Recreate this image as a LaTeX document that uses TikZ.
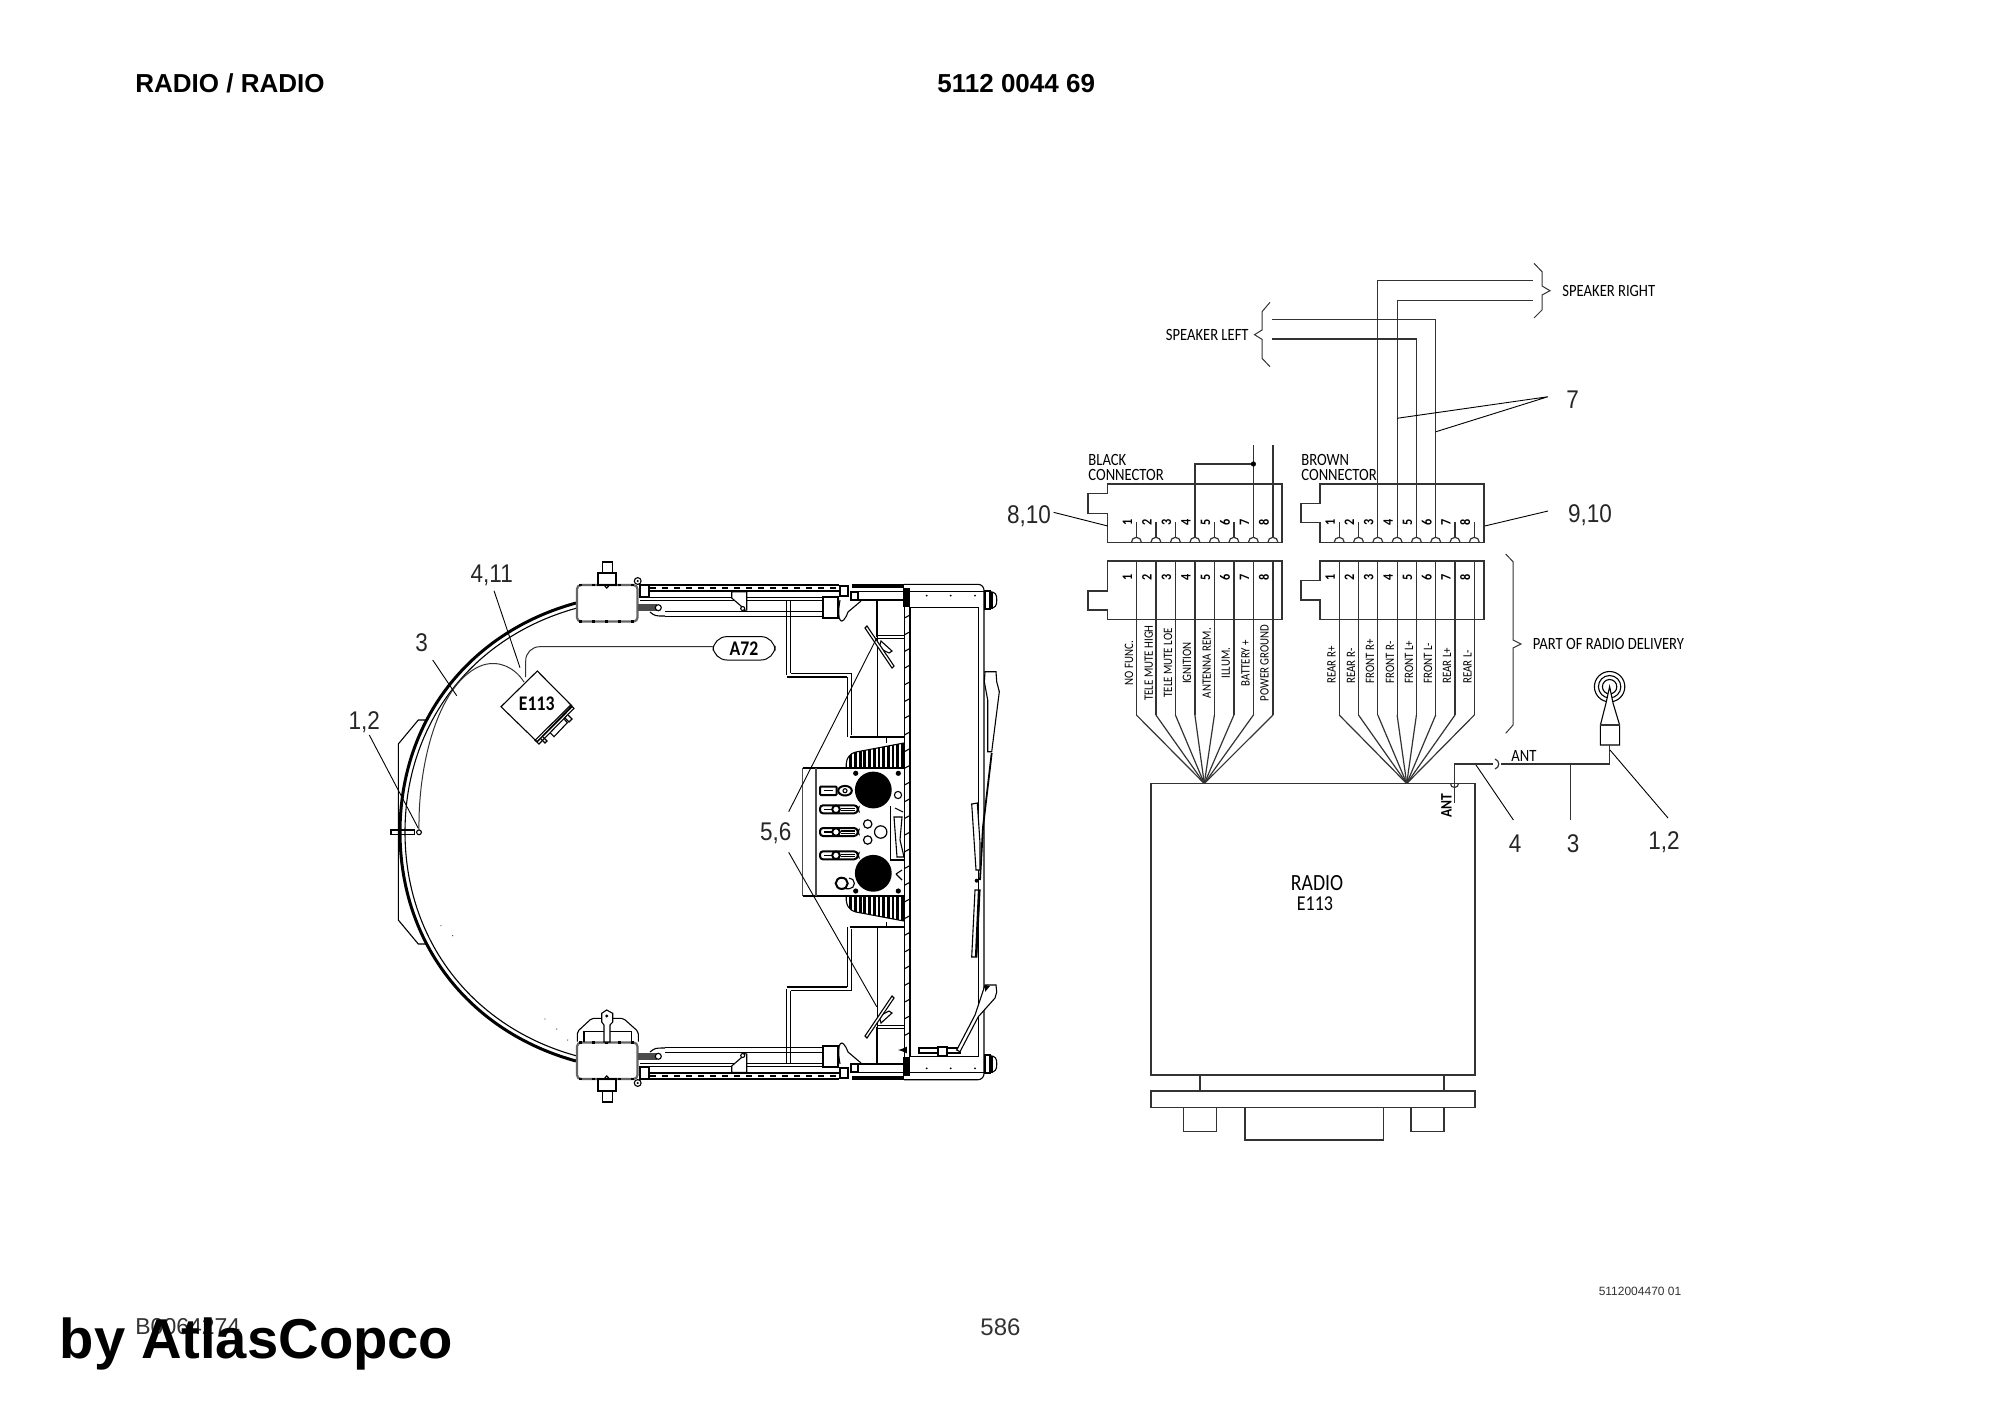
\documentclass[tikz,border=0pt]{standalone}
\usepackage{fontspec}
\setmainfont{Liberation Sans}
\newfontfamily\platefont[FakeStretch=0.85]{Carlito}
\newfontfamily\calloutfont[FakeStretch=0.88]{Liberation Sans}
\usetikzlibrary{calc,positioning}
\definecolor{wireink}{gray}{0.2}
\tikzset{
  thinline/.style={line width=0.5pt,wireink},
  wire/.style={line width=0.6pt,wireink},
  boxline/.style={line width=0.75pt,wireink},
  lead/.style={line width=0.45pt,black},
  cabline/.style={line width=0.55pt,black},
  cabthick/.style={line width=1pt,black},
  title/.style={font=\bfseries\fontsize{13}{14}\selectfont,anchor=west,inner sep=0pt},
  callout/.style={font=\calloutfont\fontsize{12.8}{13}\selectfont,inner sep=0pt,black!85},
  platetext/.style={font=\platefont\fontsize{8.6}{8.6}\selectfont,inner sep=0pt},
  wirename/.style={font=\platefont\fontsize{6.4}{7}\selectfont,inner sep=0pt,rotate=90},
  pinnum/.style={font=\platefont\bfseries\fontsize{7.2}{7.5}\selectfont,inner sep=0pt,rotate=90},
}
\newcommand{\cabhalf}{
  \draw[cabline] (426.7,720)--(418.3,720)--(398.3,744)--(398.3,832);
  \draw[line width=1.5pt] (400,832) .. controls (400,720) and (470,632) .. (576,603);
  \draw[cabline] (405,832) .. controls (405,722) and (474,636) .. (577,608);
  \draw[line width=1.1pt,black!60,rounded corners=2pt] (577,585) rectangle (637.5,621.5);
  \draw[line width=1.1pt,black,dash pattern=on 1.5pt off 5pt] (579,585)--(637,585);
  \draw[line width=1.1pt,black,dash pattern=on 1.5pt off 5pt] (579,621.5)--(637,621.5);
  \draw[cabline] (598,585) rectangle (616,573);
  \draw[cabline] (602.7,573) rectangle (612.7,562);
  \draw[cabline] (606.7,586.5) circle[radius=0.8pt];
  \draw[cabline] (637.7,581) circle[radius=1.7pt];
  \fill (637.7,581) circle[radius=0.6pt];
  \draw[line width=1.1pt] (640,585) rectangle (649.3,596.7);
  \draw[line width=0.9pt] (650,585)--(839,585);
  \draw[line width=0.6pt,dashed] (650,588)--(839,588);
  \draw[cabline] (650,591)--(839,591);
  \draw[cabline] (640,597.3)--(823,597.3);
  \draw[cabline] (640,600.7)--(823,600.7);
  \draw[cabline] (650,612) .. controls (655,616) .. (665,616);
  \draw[cabline] (665,611.7)--(823,611.7);
  \draw[line width=0.8pt] (665,616.5)--(823,616.5);
  \fill[black!70] (638,604) rectangle (657,611);
  \draw[cabline,fill=white] (658.3,607.7) circle[radius=1.5pt];
  \draw[cabline,fill=white] (731.7,591.7)--(746.7,591.7)--(746.7,610)--(742.7,610.7)--(741,606)--(731.7,598)--cycle;
  \draw[cabline,fill=white] (742.7,608.5) circle[radius=1pt];
  \draw[cabline] (786.7,601)--(786.7,675);
  \draw[cabline] (790.7,601)--(790.7,673.3);
  \draw[line width=0.9pt] (786.7,676.7)--(847.3,676.7);
  \draw[cabline] (790.7,673.3)--(851.7,673.3);
  \draw[cabline] (847.3,676.7)--(847.3,737);
  \draw[cabline] (851.7,673.3)--(851.7,735);
  \draw[line width=0.9pt] (850,737)--(904,737);
  \draw[cabline] (886.7,737)--(886.7,742.5);
  \draw[line width=1pt] (877.3,600.7)--(877.3,637);
  \draw[line width=0.4pt] (877.3,637)--(877.3,737);
  \draw[cabline] (877.3,635.5)--(904,635.5);
  \draw[cabline] (877.3,638.5)--(904,638.5);
  \draw[cabthick,fill=white] (823,597)--(838,597)--(838,618)--(823,618)--cycle;
  \draw[cabthick,fill=white] (839.5,586) rectangle (847.7,595.7);
  \draw[cabthick,fill=white] (850.7,592) rectangle (858,600);
  \draw[cabline] (840,600) .. controls (836,622) and (842,628) .. (848,612) -- (861,601);
  \draw[line width=2pt] (852,586)--(904,586);
  \draw[cabline] (858,591.7)--(903,591.7);
  \draw[cabline] (858,600)--(903,600);
  \fill (903,588) rectangle (910,607);
  \draw[cabline,rounded corners=3pt] (904,584.3)--(984,584.3)--(984,832);
  \draw[cabline] (910,591.7)--(984,591.7);
  \draw[cabline] (910.7,607.3)--(978.3,607.3);
  \draw[line width=0.8pt] (978.3,607.3)--(978.3,832);
  \foreach \x in {926.7,950.7,975} {\fill (\x,595.7) circle[radius=0.5pt];}
  \draw[cabline] (985,591) rectangle (990,609);
  \draw[cabline,rounded corners=1.5pt] (990,591.5)--(996,593)--(997,600)--(996,607)--(990,608.5);
  \draw[cabline] (992,591.5)--(992,608.5);
  \draw[cabline,fill=white] (881,641)--(892,651)--(889,653)--(879,648)--cycle;
  \draw[cabline,fill=white] (865,628)--(867,626)--(894,666)--(892,668)--cycle;
  \begin{scope}
    \clip (846,768) .. controls (846,758) and (849,754) .. (856,752)--(904,743)--(904,768)--cycle;
    \foreach \x in {846,850.7,...,906} {\draw[line width=1.4pt] (\x,740)--(\x,768);}
  \end{scope}
  \draw[cabline] (846,768) .. controls (846,758) and (849,754) .. (856,752)--(904,743);
}
\begin{document}
\begin{tikzpicture}[x=0.5pt,y=-0.5pt]
  \useasboundingbox (0,0) rectangle (2000,1414);

  \node[title] (headname) at (135,83.5) {RADIO / RADIO};
  \node[title] (headcode) at (937,83.5) {5112 0044 69};
  \node[font=\fontsize{11.5}{12}\selectfont,anchor=west,inner sep=0pt,black!80] (pageref) at (135,1326.5) {B0064274};
  \node[font=\bfseries\fontsize{28.1}{30}\selectfont,anchor=base west,inner sep=0pt] (stamp) at (59.5,1358) {by AtlasCopco};
  \node[font=\fontsize{12}{12}\selectfont,inner sep=0pt,black!80] (pageno) at (1000.5,1327) {586};
  \node[font=\fontsize{6}{7}\selectfont,inner sep=0pt,black!80] (sheetno) at (1640,1291) {5112004470 01};

  \cabhalf
  \begin{scope}[shift={(0,1664)},yscale=-1]
    \cabhalf
  \end{scope}

  % frame column
  \draw[cabline] (904.5,600)--(904.5,1064);
  \draw[cabline] (910,607)--(910,1057);
  \foreach \y in {616,632.7,...,1050} {\draw[cabline] (904.5,\y+2)--(910,\y-1);}

  % lower cab details
  \draw[cabline,rounded corners=1pt] (577.3,1041.7)--(577.3,1031.7)--(591.7,1018.3)--(623.3,1018.3)--(638.3,1031.7)--(638.3,1041.7);
  \draw[cabline] (584,1042)--(584,1031.7)--(631.7,1031.7)--(631.7,1042);
  \draw[cabline,fill=white] (604,1042)--(604,1025)--(601.7,1022)--(601.7,1013.3)--(606.7,1010)--(612.7,1013.3)--(612.7,1022)--(610,1025)--(610,1042)--cycle;
  \fill (606.7,1016) circle[radius=0.8pt];
  \foreach \x/\y in {441/925.7,452.7/935.7,545/1019,556.7/1029,567.7/1040} {\fill[black!70] (\x,\y) circle[radius=0.35pt];}
  \draw[cabline] (919,1048) rectangle (960,1053);
  \draw[cabline,fill=white] (938,1047) rectangle (947,1056);
  \draw[cabline,fill=white] (985,985)--(996,985)--(996.7,992)--(995,998)--(978.3,1016.7)--(960,1051.7)--(956.7,1050)--(975,1015)--cycle;
  \fill (985,985)--(990,986)--(985,992)--cycle;
  \draw[-latex,cabline] (904,1050)--(898,1050);

  % wipers
  \draw[cabline,fill=white] (985,671.7)--(996,671.7)--(996.7,681.7)--(999.3,691.7)--(991.7,751.7)--(987.7,751.7)--(987.7,700)--(984.3,681.7)--cycle;
  \draw[line width=0.9pt] (991.7,753)--(983,827)--(980,880);
  \draw[cabline,fill=white] (971.7,804)--(977.3,803)--(980,843)--(980,870)--(976,870)--cycle;
  \fill (976.7,880.7) circle[radius=1pt];
  \draw[cabline,fill=white] (975,890)--(980,890)--(976.7,957)--(971.7,957)--cycle;
  \draw[line width=1.1pt] (979,890)--(976,957);

  % control panel
  \draw[line width=0.7pt,black!70] (802.7,768.3)--(802.7,896);
  \draw[line width=0.9pt] (802.7,768.3)--(905,768.3);
  \draw[line width=0.9pt] (802.7,896)--(905,896);
  \draw[line width=0.7pt,black!70] (816,768.3)--(816,896);
  \draw[cabline] (890.7,806)--(890.7,860)--(904,860);
  \fill (873.3,790) circle[radius=9.2pt];
  \fill (873.3,873.3) circle[radius=9.2pt];
  \foreach \x/\y in {855.7/773.3,898.3/773.3,855.7/891,898.3/891} {\fill (\x,\y) circle[radius=1.3pt];}
  \draw[line width=0.6pt] (867.7,824) circle[radius=2.1pt];
  \draw[line width=0.6pt] (880.7,832) circle[radius=3.1pt];
  \draw[line width=0.6pt] (867.7,840) circle[radius=2.1pt];
  \draw[cabthick,rounded corners=0.5pt] (820,786.5) rectangle (836.7,795);
  \draw[cabline] (824,790.7)--(833,790.7);
  \draw[cabthick] (845,790.7) ellipse[x radius=3.4pt,y radius=2.4pt];
  \draw[cabline] (845,790.7) circle[radius=1pt];
  \foreach \y in {809.3,832,855.3} {
    \draw[cabthick,rounded corners=1.5pt] (820,\y-4)--(857,\y-4)--(858,\y)--(857,\y+4)--(820,\y+4)--cycle;
    \draw[cabthick,fill=white] (836,\y) circle[radius=1.9pt];
    \draw[cabline] (824,\y)--(832,\y);
    \draw[line width=0.6pt] (841,\y-1)--(855,\y-1);
    \draw[line width=0.6pt] (841,\y+1.5)--(855,\y+1.5);
  }
  \draw[cabthick] (841.7,883.3) ellipse[x radius=3pt,y radius=2.8pt];
  \draw[cabline] (849,878) arc[start angle=90,end angle=-90,radius=2.7pt] -- (841.7,888.5);
  \draw[cabline] (895,808)--(903,812);
  \draw[cabline] (894,817)--(902,817)--(900,840)--(904,857)--(897,857)--cycle;
  \draw[cabline] (898,795) circle[radius=1.8pt];
  \draw[cabline] (896,874)--(902,870);
  \draw[cabline] (896,874)--(902,880);

  % cable and radio symbol
  \coordinate (cableend) at (419,829.8);
  \coordinate (cablehump) at (483,665);
  \coordinate (symtop) at (524,682);
  \draw[cabline] (419,832.3) circle[radius=1.2pt];
  \draw[cabline] (391,830) rectangle (414.3,834.3);
  \draw[thinline] (cableend) .. controls (418,760) and (440,680) .. (cablehump) .. controls (500,660) and (515,668) .. (symtop);
  \draw[cabline] (537.3,671)--(501,706.7)--(537,741.7)--(571.7,705.7)--cycle;
  \node[font=\platefont\bfseries\fontsize{10.4}{11}\selectfont,inner sep=0pt] (symname) at (536.7,704) {E113};
  \draw[cabline] (570.7,705)--(574,708.3)--(539,744)--(535,740.3)--cycle;
  \draw[cabline] (572.3,706.6)--(537,742.2);
  \draw[cabline] (564.3,719.3)--(567.3,722.7)--(554,736.7)--(550,732.7);
  \draw[cabline] (568,715)--(572,719)--(569,722)--(565,718);
  \draw[cabline] (543,737)--(547,741)--(545,743)--(541,739);
  \node[draw,line width=0.5pt,rounded corners=7pt,minimum width=31pt,minimum height=11.7pt,inner sep=0pt,font=\platefont\bfseries\fontsize{10.4}{11}\selectfont] (tagname) at (744,648.3) {A72};
  \coordinate (symleg) at (525.7,677);
  \draw[thinline,rounded corners=7pt] (symleg)--(525.7,646.7)--(tagname.west |- 0,646.7);

  % part numbers, left view
  \node[callout] (numA) at (491.7,575) {4,11};
  \node[callout] (numB) at (421.7,643) {3};
  \node[callout] (numC) at (364.3,722) {1,2};
  \node[callout] (numD) at (775.7,833.5) {5,6};
  \coordinate (numAa) at (494,590.7);
  \coordinate (numAb) at (520,667.7);
  \coordinate (numBa) at (432.7,660);
  \coordinate (numBb) at (456.7,695.7);
  \coordinate (numCa) at (369.3,735);
  \coordinate (numCb) at (418.3,828.3);
  \coordinate (numDa) at (788.7,811.7);
  \coordinate (numDb) at (876.7,638);
  \coordinate (numDc) at (788.7,852.3);
  \coordinate (numDd) at (876.7,1006.7);
  \draw[lead] (numAa)--(numAb);
  \draw[lead] (numBa)--(numBb);
  \draw[lead] (numCa)--(numCb);
  \draw[lead] (numDa)--(numDb);
  \draw[lead] (numDc)--(numDd);

  % connectors
  \foreach \side/\left/\right/\outer/\topa/\topb/\lowa/\lowb/\first/\pitch in {bk/1107.7/1281.8/1088/493.3/513.3/591/610/1136.4/19.5,br/1320/1484/1301/503.3/522.7/580.7/600/1339.2/19.3} {
    \draw[boxline] (\left,484)--(\right,484)--(\right,542.3)--(\left,542.3)--(\left,\topb)--(\outer,\topb)--(\outer,\topa)--(\left,\topa)--cycle;
    \draw[boxline] (\left,561)--(\right,561)--(\right,619.3)--(\left,619.3)--(\left,\lowb)--(\outer,\lowb)--(\outer,\lowa)--(\left,\lowa)--cycle;
    \foreach \i in {1,...,8} {
      \pgfmathsetmacro\pinx{\first+\pitch*(\i-1)}
      \coordinate (\side-up-\i) at (\pinx,537.3);
      \coordinate (\side-tick-\i) at (\pinx,522);
      \coordinate (\side-low-\i) at (\pinx,561);
      \coordinate (\side-elbow-\i) at (\pinx,715);
      \draw[wire] (\side-up-\i)--(\side-tick-\i);
      \draw[wire] (\pinx-5,542.3) arc[start angle=180,end angle=0,radius=2.5pt];
      \draw[wire] (\side-low-\i)--(\side-elbow-\i);
      \node[pinnum] (\side-upnum-\i) at (\pinx-9,522.5) {\i};
      \node[pinnum] (\side-lownum-\i) at (\pinx-9,577) {\i};
    }
  }

  % radio
  \node[draw,boxline,minimum width=162pt,minimum height=145.8pt,inner sep=0pt] (radio) at (1313,929.3) {};
  \node[font=\platefont\fontsize{11.6}{13}\selectfont,inner sep=0pt] (radioname) at (1317,882.7) {RADIO};
  \node[font=\platefont\fontsize{10.6}{12}\selectfont,inner sep=0pt] (radiocode) at (1315,904) {E113};
  \coordinate (fanblack) at (1204.3,783.5);
  \coordinate (fanbrown) at (1406.7,783.5);
  \foreach \i in {1,...,8} {
    \draw[wire] (bk-elbow-\i)--(fanblack);
    \draw[wire] (br-elbow-\i)--(fanbrown);
  }
  \draw[boxline] (1200,1075)--(1200,1091);
  \draw[boxline] (1443.8,1075)--(1443.8,1091);
  \draw[boxline] (1151,1091) rectangle (1475,1107.7);
  \draw[boxline] (1183.5,1107.7) rectangle (1216.4,1131.7);
  \draw[boxline] (1411,1107.7) rectangle (1444,1131.7);
  \draw[boxline] (1245,1107.7) rectangle (1383.5,1140);

  % wire names
  \foreach \x/\t in {1129/NO FUNC.,1148.8/TELE MUTE HIGH,1168/TELE MUTE LOE,1187/IGNITION,1206.7/ANTENNA REM.,1225.8/ILLUM.,1245.5/BATTERY +,1264.6/POWER GROUND} {
    \node[wirename] at (\x,663) {\t};
  }
  \foreach \x/\t in {1331.6/REAR R+,1351/REAR R-,1370/FRONT R+,1390/FRONT R-,1409/FRONT L+,1428/FRONT L-,1447/REAR L+,1467.5/REAR L-} {
    \node[wirename,anchor=west] at (\x,684) {\t};
  }

  % speaker wires
  \coordinate (spkrightA) at (1532.6,280.7);
  \coordinate (spkrightB) at (1532.6,300.7);
  \coordinate (spkleftA) at (1271.8,319.7);
  \coordinate (spkleftB) at (1271.8,339);
  \coordinate (feedA) at (bk-up-7 |- 0,445);
  \coordinate (feedB) at (bk-up-8 |- 0,445);
  \coordinate (feedjoin) at (bk-up-7 |- 0,464);
  \draw[wire] (br-up-3) |- (spkrightA);
  \draw[wire] (br-up-4) |- (spkrightB);
  \draw[wire] (br-up-6) |- (spkleftA);
  \draw[wire] (br-up-5) |- (spkleftB);
  \draw[wire] (bk-up-7)--(feedA);
  \draw[wire] (bk-up-8)--(feedB);
  \draw[wire] (bk-up-4) |- (feedjoin);
  \fill (feedjoin) circle[radius=1.3pt];

  % braces
  \draw[thinline] (1534,263.3)--(1542,271.7)--(1542,286)--(1550,290.7)--(1542,295)--(1542,310)--(1534,318);
  \draw[thinline] (1270,302.3)--(1262,311.7)--(1262,330)--(1254.5,334.7)--(1262,339.3)--(1262,358.3)--(1270,366.7);
  \draw[thinline] (1505.7,554)--(1513,561.7)--(1513,640)--(1521,644)--(1513,648)--(1513,725)--(1505.7,733.3);

  % plate texts
  \node[platetext,anchor=west] (spkright) at (1562,290.7) {SPEAKER RIGHT};
  \node[platetext,anchor=east] (spkleft) at (1249,334.7) {SPEAKER LEFT};
  \node[platetext,anchor=west] (delivery) at (1532.5,644) {PART OF RADIO DELIVERY};
  \node[platetext,anchor=west] (blackA) at (1088,460) {BLACK};
  \node[platetext,anchor=west] (blackB) at (1088,474.7) {CONNECTOR};
  \node[platetext,anchor=west] (brownA) at (1301,460) {BROWN};
  \node[platetext,anchor=west] (brownB) at (1301,474.7) {CONNECTOR};

  % antenna
  \coordinate (anthub) at (1609.6,686.7);
  \coordinate (antfoot) at (1609.6,745);
  \coordinate (antbend) at (1609.6,764);
  \coordinate (plugright) at (1500.5,764);
  \coordinate (plugleft) at (1493,764);
  \coordinate (radiobend) at (1454.5,764);
  \coordinate (radioplug) at (1454.5,803);
  \foreach \r in {7.6,5.6,3.6} {\draw[cabline] (anthub) circle[radius=\r pt];}
  \draw[cabline,fill=white] (anthub)--(1606,703)--(1600.4,725)--(1600.4,745)--(1619.6,745)--(1619.6,725)--(1613,703)--cycle;
  \draw[wire] (1600.4,725)--(1619.6,725);
  \draw[wire] (antfoot)--(antbend)--(plugright);
  \draw[wire] (plugleft)--(radiobend)--(radioplug);
  \draw[wire] (1495,759) .. controls (1500,761) and (1500,767) .. (1495,769);
  \draw[wire] (1450.5,783.5) arc[start angle=180,end angle=360,radius=2pt];
  \node[platetext,anchor=west] (antwire) at (1511,756) {ANT};
  \node[font=\platefont\bfseries\fontsize{8}{8}\selectfont,rotate=90,inner sep=0pt] (antbox) at (1446.4,806) {ANT};

  % part numbers, right view
  \node[callout] (numE) at (1572.7,400) {7};
  \node[callout] (numF) at (1029,516) {8,10};
  \node[callout] (numG) at (1590,515) {9,10};
  \node[callout] (numH) at (1515,844) {4};
  \node[callout] (numI) at (1573,844) {3};
  \node[callout] (numJ) at (1664,842.5) {1,2};
  \coordinate (numEa) at (1548,396.7);
  \coordinate (numEb) at (1397,418.3);
  \coordinate (numEc) at (1436,431.7);
  \coordinate (numFa) at (1053.6,512.3);
  \coordinate (numGa) at (1548,511);
  \coordinate (numHa) at (1476,765);
  \coordinate (numHb) at (1513.4,820);
  \coordinate (numIa) at (1570.8,764);
  \coordinate (numIb) at (1570.8,820);
  \coordinate (numJa) at (1610,750);
  \coordinate (numJb) at (1668,818);
  \draw[lead] (numEb)--(numEa)--(numEc);
  \draw[lead] (numFa)--(1107.7,526);
  \draw[lead] (1484.7,526)--(numGa);
  \draw[lead] (numHa)--(numHb);
  \draw[wire] (numIa)--(numIb);
  \draw[lead] (numJa)--(numJb);
\end{tikzpicture}
\end{document}
